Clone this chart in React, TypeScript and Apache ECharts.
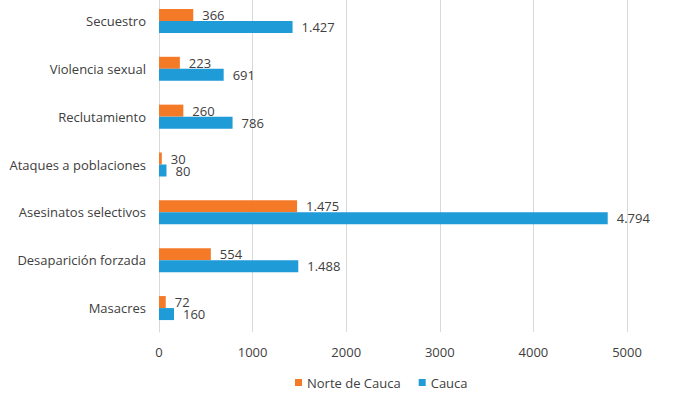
import React, { useEffect, useRef } from "react";
import * as echarts from "echarts";

const categories = [
  "Masacres",
  "Desaparición forzada",
  "Asesinatos selectivos",
  "Ataques a poblaciones",
  "Reclutamiento",
  "Violencia sexual",
  "Secuestro",
];
const norteDeCauca = [72, 554, 1475, 30, 260, 223, 366];
const cauca = [160, 1488, 4794, 80, 786, 691, 1427];
const seriesNames = ["Norte de Cauca", "Cauca"];
const axisTicks = [0, 1000, 2000, 3000, 4000, 5000];

const FONT = "Open Sans";
const TEXT = "#404040";

const fmt = (v: number) =>
  String(v).replace(/\B(?=(\d{3})+(?!\d))/g, ".");

export default function App() {
  const ref = useRef<HTMLDivElement>(null);
  useEffect(() => {
    if (!ref.current) return;
    const chart = echarts.init(ref.current, undefined, { renderer: "svg" });
    const labelStyle = {
      show: true,
      position: "right" as const,
      distance: 9,
      color: TEXT,
      fontFamily: FONT,
      fontSize: 13,
      formatter: (p: any) => fmt(p.value),
    };
    chart.setOption({
      animation: false,
      backgroundColor: "#ffffff",
      textStyle: { fontFamily: FONT },
      grid: { left: 159, right: 73, top: 0, bottom: 62, containLabel: false },
      legend: {
        data: seriesNames,
        left: 290,
        top: 374,
        itemWidth: 7,
        itemHeight: 7,
        itemGap: 18,
        icon: "rect",
        textStyle: { color: TEXT, fontFamily: FONT, fontSize: 13 },
      },
      xAxis: {
        type: "value",
        min: axisTicks[0],
        max: axisTicks[axisTicks.length - 1],
        interval: 1000,
        axisLine: { show: false },
        axisTick: { show: false },
        splitLine: { lineStyle: { color: "#d9d9d9", width: 1 } },
        axisLabel: {
          color: TEXT,
          fontFamily: FONT,
          fontSize: 13,
          margin: 13,
          formatter: (v: number) => String(v),
        },
      },
      yAxis: {
        type: "category",
        data: categories,
        axisLine: { show: true, lineStyle: { color: "#d9d9d9" } },
        axisTick: { show: false },
        axisLabel: { color: TEXT, fontFamily: FONT, fontSize: 13, margin: 13 },
      },
      series: [
        {
          name: seriesNames[0],
          type: "bar",
          data: norteDeCauca,
          itemStyle: { color: "#f57a28" },
          barWidth: 12,
          barGap: "0%",
          label: labelStyle,
        },
        {
          name: seriesNames[1],
          type: "bar",
          data: cauca,
          itemStyle: { color: "#1f9bd8" },
          barWidth: 12,
          barGap: "0%",
          label: labelStyle,
        },
      ],
    });
    return () => chart.dispose();
  }, []);
  return (
    <div
      ref={ref}
      style={{ width: 700, height: 397, position: "fixed", left: 0, top: -3 }}
    />
  );
}
